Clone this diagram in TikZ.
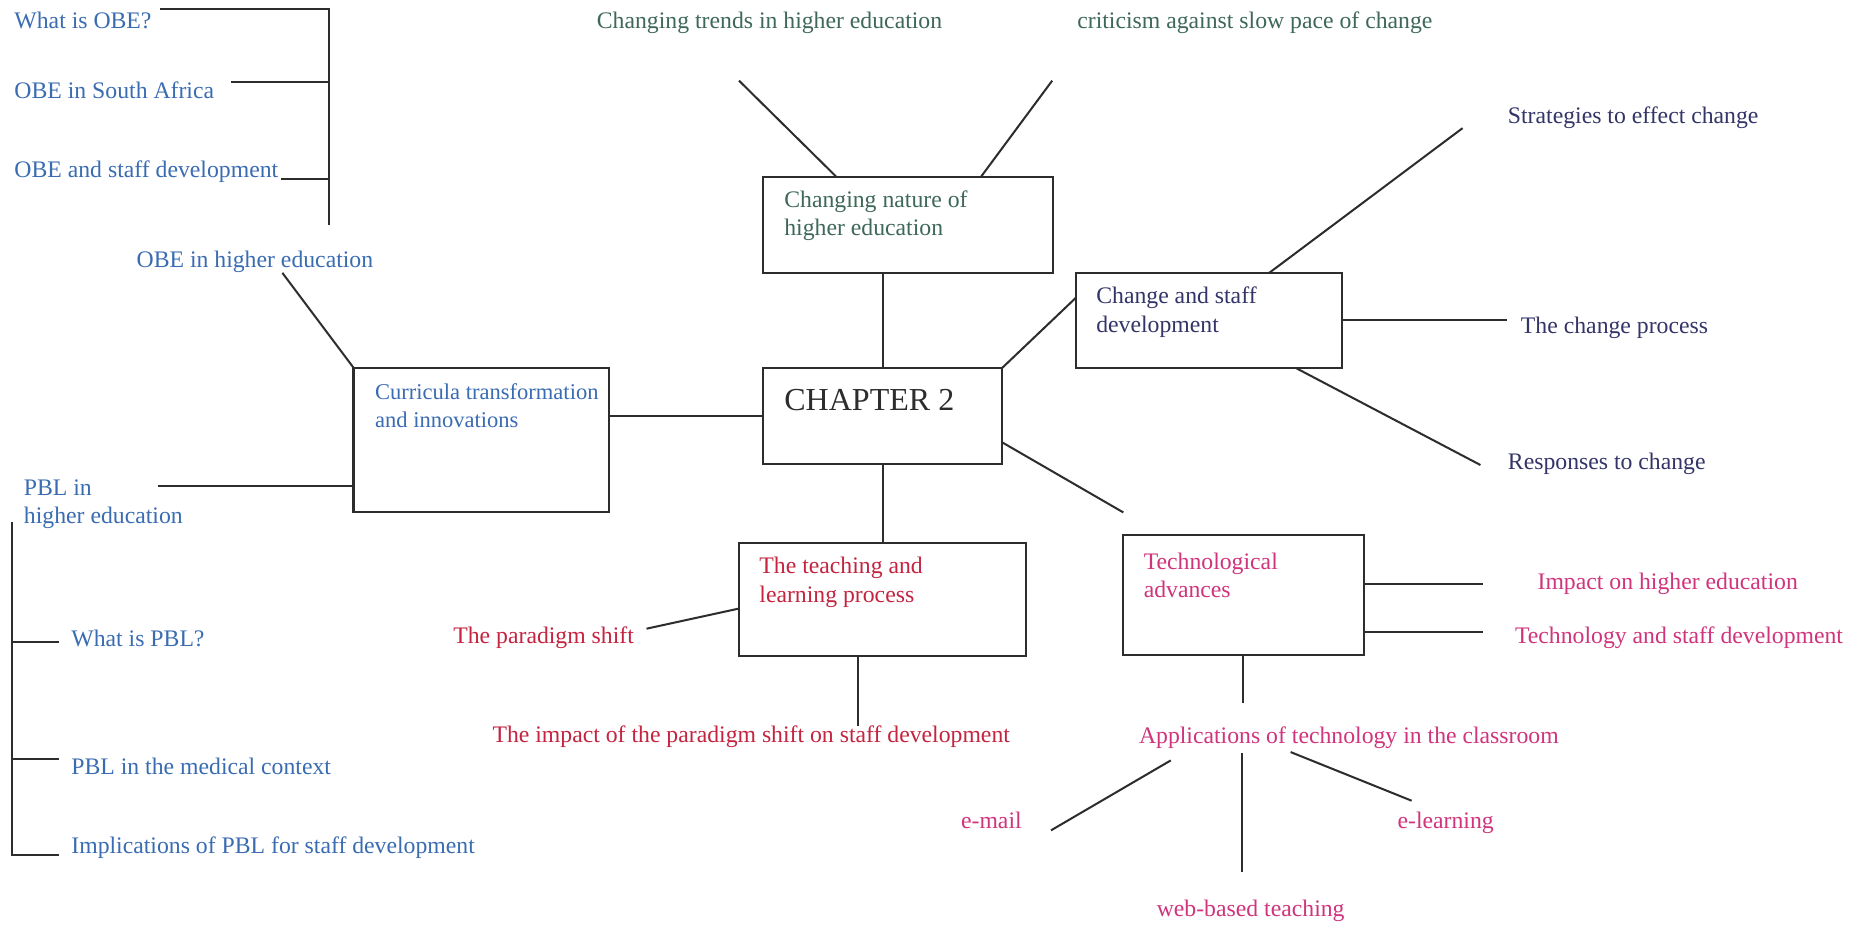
\documentclass[tikz,border=0pt]{standalone}
\usepackage{fontspec}
\setmainfont{Liberation Serif}
\definecolor{obe}{RGB}{58,108,178}
\definecolor{trend}{RGB}{62,104,88}
\definecolor{chg}{RGB}{52,52,104}
\definecolor{teach}{RGB}{196,36,64}
\definecolor{tech}{RGB}{208,52,124}
\definecolor{ink}{RGB}{45,45,45}
\tikzset{
  txt/.style={anchor=west, inner sep=0pt, align=left, font=\fontsize{20}{24}\selectfont},
  box/.style={draw=ink, line width=1.7pt, anchor=north west, inner sep=0pt, outer sep=0pt},
  ln/.style={draw=ink, line width=1.7pt},
}
\begin{document}
\begin{tikzpicture}[x=1pt,y=-1pt]
\useasboundingbox[fill=white] (0,0) rectangle (1568,781);

% boxes
\node[box, minimum width=215pt, minimum height=122pt] (cur) at (298,310) {};
\node[box, minimum width=202pt, minimum height=81pt] (chap) at (643,310) {};
\node[box, minimum width=245pt, minimum height=81pt] (nat) at (643,149) {};
\node[box, minimum width=224pt, minimum height=80pt] (chg) at (907,230) {};
\node[box, minimum width=242pt, minimum height=95pt] (tea) at (623,458) {};
\node[box, minimum width=203pt, minimum height=101pt] (tec) at (947,451) {};

% box texts
\node[txt, text=obe, font=\fontsize{19}{24}\selectfont] (curt) at (316,342) {Curricula transformation\\and innovations};
\node[txt, text=ink, font=\fontsize{27}{32}\selectfont] (chapt) at (661,337) {CHAPTER 2};
\node[txt, text=trend] (natt) at (661,182) {Changing nature of\\higher education};
\node[txt, text=chg] (chgt) at (924,263) {Change and staff\\development};
\node[txt, text=teach] (teat) at (640,491) {The teaching and\\learning process};
\node[txt, text=tech] (tect) at (964,485) {Technological\\advances};

% OBE group
\node[txt, text=obe] (obe1) at (12,17) {What is OBE?};
\node[txt, text=obe] (obe2) at (12,76) {OBE in South Africa};
\node[txt, text=obe] (obe3) at (12,145) {OBE and staff development};
\node[txt, text=obe] (obehe) at (115,221) {OBE in higher education};
\coordinate (oA) at (135,8);
\coordinate (oT) at (277,8);
\coordinate (oB) at (277,190);
\coordinate (o2) at (195,69);
\coordinate (o3) at (237,151);
\coordinate (oh) at (238,230);
\draw[ln] (oA) -- (oT) -- (oB);
\draw[ln] (o2) -- (o2 -| oT);
\draw[ln] (o3) -- (o3 -| oT);
\draw[ln] (oh) -- (cur.north west);

% PBL group
\node[txt, text=obe] (pblhe) at (20,425) {PBL in\\higher education};
\node[txt, text=obe] (pbl1) at (60,538) {What is PBL?};
\node[txt, text=obe] (pbl2) at (60,646) {PBL in the medical context};
\node[txt, text=obe] (pbl3) at (60,715) {Implications of PBL for staff development};
\coordinate (pR) at (133,410);
\coordinate (pT) at (10,440);
\coordinate (pB) at (10,721);
\coordinate (pBe) at (50,721);
\coordinate (p1) at (50,541);
\coordinate (p2) at (50,640);
\draw[ln] (pR) -- (pR -| cur.west);
\draw[ln] (pT) -- (pB) -- (pBe);
\draw[ln] (p1 -| pT) -- (p1);
\draw[ln] (p2 -| pT) -- (p2);

% curricula -- chapter
\draw[ln] (chap.west) -- (chap.west -| cur.east);

% changing nature
\node[txt, text=trend] (trends) at (503,19) {Changing trends in higher education};
\node[txt, text=trend] (crit) at (908,19) {criticism against slow pace of change};
\coordinate (n1) at (623,68);
\coordinate (n1b) at (705,149);
\coordinate (n2) at (887,68);
\coordinate (n2b) at (827,149);
\draw[ln] (n1) -- (n1b);
\draw[ln] (n2) -- (n2b);
\draw[ln] (chap.north) -- (chap.north |- nat.south);

% change and staff development
\node[txt, text=chg] (strat) at (1271,99) {Strategies to effect change};
\node[txt, text=chg] (proc) at (1282,276) {The change process};
\node[txt, text=chg] (resp) at (1271,391) {Responses to change};
\coordinate (c0) at (907,251);
\coordinate (c1a) at (1070,230);
\coordinate (c1b) at (1233,108);
\coordinate (c3a) at (1092,310);
\coordinate (c3b) at (1248,392);
\draw[ln] (chap.north east) -- (c0);
\draw[ln] (c1a) -- (c1b);
\draw[ln] (chg.east) -- ++(139,0);
\draw[ln] (c3a) -- (c3b);

% teaching and learning
\node[txt, text=teach] (para) at (382,538) {The paradigm shift};
\node[txt, text=teach] (impact) at (415,621) {The impact of the paradigm shift on staff development};
\coordinate (t1a) at (623,513);
\coordinate (t1b) at (545,530);
\coordinate (t2a) at (723,553);
\coordinate (t2b) at (723,612);
\draw[ln] (chap.south) -- (tea.north -| chap.south);
\draw[ln] (t1a) -- (t1b);
\draw[ln] (t2a) -- (t2b);

% technological advances
\coordinate (k0a) at (845,373);
\coordinate (k0b) at (947,432);
\draw[ln] (k0a) -- (k0b);
\node[txt, text=tech] (imp) at (1296,492) {Impact on higher education};
\node[txt, text=tech] (tsd) at (1277,538) {Technology and staff development};
\node[txt, text=tech] (app) at (960,622) {Applications of technology in the classroom};
\node[txt, text=tech] (email) at (810,692) {e-mail};
\node[txt, text=tech] (elearn) at (1178,694) {e-learning};
\node[txt, text=tech] (web) at (975,768) {web-based teaching};
\coordinate (k1) at (1150,492);
\coordinate (k2) at (1150,533);
\coordinate (k3) at (1048,593);
\coordinate (a1a) at (987,641);
\coordinate (a1b) at (886,700);
\coordinate (a2a) at (1047,635);
\coordinate (a2b) at (1047,735);
\coordinate (a3a) at (1088,634);
\coordinate (a3b) at (1190,675);
\draw[ln] (k1) -- ++(100,0);
\draw[ln] (k2) -- ++(100,0);
\draw[ln] (k3) -- (k3 |- tec.south);
\draw[ln] (a1a) -- (a1b);
\draw[ln] (a2a) -- (a2b);
\draw[ln] (a3a) -- (a3b);
\end{tikzpicture}
\end{document}
